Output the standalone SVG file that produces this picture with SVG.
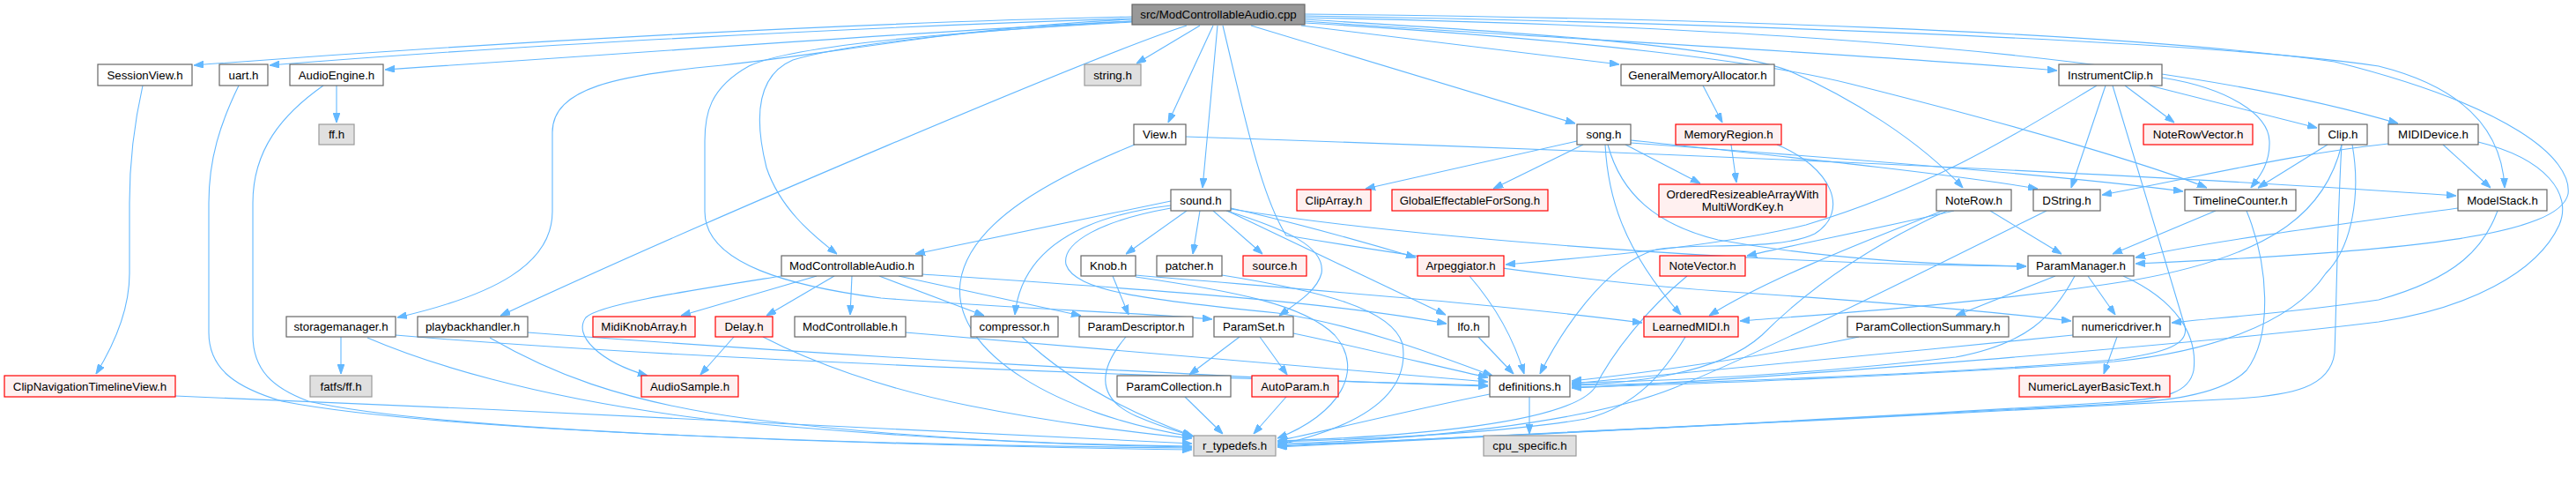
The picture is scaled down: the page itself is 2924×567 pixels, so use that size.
<svg xmlns="http://www.w3.org/2000/svg" width="2924" height="567" viewBox="0 0 2924 567">
<style>
.e{fill:none;stroke:#63b8ff;stroke-width:1.1;marker-end:url(#a)}
.n rect{fill:#fff;stroke:#666;stroke-width:1.2}
.r rect{fill:#fff0f0;stroke:#ff0000;stroke-width:1.2}
.g rect{fill:#e0e0e0;stroke:#999;stroke-width:1.2}
.root rect{fill:#999;stroke:#666;stroke-width:1.2}
text{font-family:"Liberation Sans",Arial,sans-serif;font-size:13.3px;fill:#000;text-anchor:middle}
</style>
<defs>
<marker id="a" markerUnits="userSpaceOnUse" markerWidth="11" markerHeight="8" refX="10" refY="3.5" orient="auto" viewBox="0 0 10 7">
<path d="M0,0 L10,3.5 L0,7 z" fill="#63b8ff" stroke="#63b8ff"/>
</marker>
</defs>
<rect width="2924" height="567" fill="#fff"/>
<g id="connectors">
<path class="e" d="M1285,19 C1000,25 600,45 220,74"/>
<path class="e" d="M1285,21 C1000,30 600,50 306,74"/>
<path class="e" d="M1285,24 C1100,32 800,55 437,79"/>
<path class="e" d="M1362,29 L1290,72"/>
<path class="e" d="M1377,29 L1326,139"/>
<path class="e" d="M1382,29 L1365,213"/>
<path class="e" d="M1285,22 C1100,30 950,60 820,74 C700,85 627,100 627,150 L627,240 C627,300 560,335 451,360"/>
<path class="e" d="M1347,29 C1250,60 800,250 568,358"/>
<path class="e" d="M1285,24 C1100,35 960,50 900,68 C860,85 855,130 870,190 C885,235 920,265 950,288"/>
<path class="e" d="M1285,25 C1100,35 900,50 850,75 C805,100 800,130 800,160 L800,240 C800,300 900,325 1000,338 C1150,350 1300,355 1376,362"/>
<path class="e" d="M1388,29 C1410,120 1430,220 1460,267 C1600,290 1800,320 1950,330 C2100,340 2250,352 2351,364"/>
<path class="e" d="M1420,29 L1788,140"/>
<path class="e" d="M1477,29 L1838,73"/>
<path class="e" d="M1481,24 C1700,40 2100,60 2335,80"/>
<path class="e" d="M1481,22 C1700,35 1950,50 2030,80 C2100,110 2180,160 2228,213"/>
<path class="e" d="M1481,26 C1800,45 2000,70 2100,95 C2300,145 2450,190 2505,213"/>
<path class="e" d="M1481,20 C2000,30 2450,60 2722,140"/>
<path class="e" d="M1481,18 C1900,25 2500,45 2700,75 C2800,100 2840,150 2843,213"/>
<path class="e" d="M1481,16 C1900,20 2400,35 2650,70 C2850,120 2920,180 2915,220 C2905,265 2750,285 2424,299"/>
<path class="e" d="M162,97 C150,150 147,200 147,230 L147,310 C147,350 130,390 109,424"/>
<path class="e" d="M199,449 C600,465 1100,490 1353,503"/>
<path class="e" d="M271,97 C250,140 237,180 237,230 L237,377 C237,420 270,440 320,455 C500,490 1000,505 1353,508"/>
<path class="e" d="M367,97 C320,130 287,170 287,230 L287,380 C287,420 310,440 350,455 C500,490 1000,505 1353,510"/>
<path class="e" d="M382,97 L382,139"/>
<path class="e" d="M387,382 L387,424"/>
<path class="e" d="M449,380 C800,410 1400,430 1689,437"/>
<path class="e" d="M417,383 C480,410 600,450 800,475 C1000,495 1200,505 1353,507"/>
<path class="e" d="M599,377 C900,400 1400,430 1689,438"/>
<path class="e" d="M556,383 C620,420 700,455 850,475 C1050,500 1250,505 1353,506"/>
<path class="e" d="M927,313 L773,358"/>
<path class="e" d="M947,313 L870,358"/>
<path class="e" d="M967,313 L965,357"/>
<path class="e" d="M998,313 L1117,358"/>
<path class="e" d="M1020,313 L1227,358"/>
<path class="e" d="M887,313 C780,330 680,345 665,360 C650,380 680,410 735,426"/>
<path class="e" d="M1047,311 C1250,325 1500,340 1642,367"/>
<path class="e" d="M833,382 L795,425"/>
<path class="e" d="M866,382 C920,410 1000,440 1100,460 C1200,480 1300,492 1353,497"/>
<path class="e" d="M1028,377 C1300,400 1550,420 1689,433"/>
<path class="e" d="M1160,382 C1200,420 1260,460 1353,494"/>
<path class="e" d="M1278,382 C1250,415 1240,450 1290,472 C1320,485 1340,490 1355,495"/>
<path class="e" d="M1263,313 L1281,357"/>
<path class="e" d="M1289,312 C1500,330 1700,345 1864,366"/>
<path class="e" d="M1289,314 C1400,330 1480,345 1515,380 C1550,420 1520,470 1450,497"/>
<path class="e" d="M1387,312 C1500,330 1580,350 1592,390 C1600,440 1560,480 1450,505"/>
<path class="e" d="M1329,228 L1039,288"/>
<path class="e" d="M1329,233 C1230,245 1160,280 1152,357"/>
<path class="e" d="M1347,239 L1278,288"/>
<path class="e" d="M1362,239 L1354,288"/>
<path class="e" d="M1377,239 L1433,288"/>
<path class="e" d="M1397,236 C1480,255 1550,275 1607,292"/>
<path class="e" d="M1393,239 L1641,357"/>
<path class="e" d="M1392,239 C1460,260 1505,280 1500,310 C1495,330 1470,345 1452,358"/>
<path class="e" d="M1397,237 C1600,270 2000,300 2300,302"/>
<path class="e" d="M1329,236 C1250,250 1205,275 1210,300 C1220,330 1300,340 1450,355 C1550,370 1650,410 1694,426"/>
<path class="e" d="M1790,160 L1550,214"/>
<path class="e" d="M1797,164 L1695,214"/>
<path class="e" d="M1845,164 L1930,208"/>
<path class="e" d="M1851,159 C2000,175 2200,195 2313,214"/>
<path class="e" d="M1851,162 C2100,180 2350,200 2478,217"/>
<path class="e" d="M1822,164 C1825,220 1840,280 1908,357"/>
<path class="e" d="M1825,164 C1840,220 1880,255 1950,272 C2080,295 2200,300 2300,302"/>
<path class="e" d="M1346,155 C1800,170 2400,195 2788,222"/>
<path class="e" d="M1288,164 C1200,200 1100,250 1090,320 C1080,400 1200,470 1353,495"/>
<path class="e" d="M1933,97 L1955,139"/>
<path class="e" d="M1965,164 L1971,207"/>
<path class="e" d="M2017,164 C2080,190 2100,240 2060,265 C2020,285 1920,275 1880,283 C1820,300 1770,380 1748,424"/>
<path class="e" d="M2412,97 L2468,139"/>
<path class="e" d="M2440,97 L2630,145"/>
<path class="e" d="M2454,88 C2530,100 2575,130 2576,160 C2577,185 2565,200 2555,213"/>
<path class="e" d="M2390,97 L2351,213"/>
<path class="e" d="M2380,97 C2300,145 2200,210 2050,255 C1950,280 1800,292 1709,300"/>
<path class="e" d="M2398,97 L2480,370 C2485,390 2460,400 2400,408 C2200,425 1900,435 1784,437"/>
<path class="e" d="M2642,164 L2563,213"/>
<path class="e" d="M2658,164 C2640,240 2580,290 2420,318 C2250,345 2050,358 1975,364"/>
<path class="e" d="M2658,164 C2653,250 2652,350 2650,400 C2645,440 2600,448 2540,452 C2200,470 1700,495 1450,507"/>
<path class="e" d="M2670,164 C2680,220 2670,280 2640,310 C2600,370 2500,400 2400,410 C2200,425 1900,437 1784,439"/>
<path class="e" d="M2711,163 C2600,175 2500,200 2386,221"/>
<path class="e" d="M2773,164 L2827,213"/>
<path class="e" d="M2813,161 C2890,180 2920,220 2905,255 C2880,310 2800,350 2700,365 C2500,390 2000,430 1784,440"/>
<path class="e" d="M2515,239 L2398,288"/>
<path class="e" d="M2550,239 C2575,300 2580,380 2550,420 C2520,450 2450,455 2400,458 C2100,475 1700,495 1450,506"/>
<path class="e" d="M2790,236 C2650,255 2500,275 2424,292"/>
<path class="e" d="M2835,239 C2820,280 2790,315 2700,340 C2600,355 2520,360 2465,366"/>
<path class="e" d="M2259,239 L2340,288"/>
<path class="e" d="M2218,239 C2150,255 2050,275 1983,290"/>
<path class="e" d="M2205,239 C2100,280 2000,320 1940,358"/>
<path class="e" d="M2210,239 C2120,280 2050,330 2000,380 C1950,425 1850,435 1784,436"/>
<path class="e" d="M2323,239 C2200,300 2000,400 1900,440 C1800,480 1600,500 1450,503"/>
<path class="e" d="M2333,313 L2220,358"/>
<path class="e" d="M2370,313 L2401,357"/>
<path class="e" d="M2355,313 C2330,360 2300,390 2220,405 C2050,425 1900,432 1784,434"/>
<path class="e" d="M2410,313 C2470,340 2495,380 2490,420 C2485,445 2460,452 2400,456 C2100,475 1700,495 1450,505"/>
<path class="e" d="M2110,382 C2000,405 1850,425 1784,432"/>
<path class="e" d="M2403,382 L2388,424"/>
<path class="e" d="M2353,380 C2150,400 1900,425 1784,435"/>
<path class="e" d="M1915,313 C1870,350 1830,400 1810,440 C1780,480 1600,495 1450,500"/>
<path class="e" d="M1913,382 C1890,420 1860,460 1800,475 C1700,492 1550,498 1450,501"/>
<path class="e" d="M1668,313 C1700,350 1720,390 1730,424"/>
<path class="e" d="M1678,382 L1718,424"/>
<path class="e" d="M1407,382 L1350,425"/>
<path class="e" d="M1430,382 L1461,425"/>
<path class="e" d="M1468,378 C1550,395 1650,420 1689,428"/>
<path class="e" d="M1345,450 L1388,492"/>
<path class="e" d="M1460,450 L1423,492"/>
<path class="e" d="M1736,450 L1736,492"/>
<path class="e" d="M1691,447 C1600,465 1500,490 1450,500"/>
</g>
<g id="n_root" class="root"><rect x="1285" y="5" width="196" height="23"/><text x="1383" y="21">src/ModControllableAudio.cpp</text></g>
<g id="n_sessionview" class="n"><rect x="111" y="73" width="107" height="24"/><text x="164.5" y="89.5">SessionView.h</text></g>
<g id="n_uart" class="n"><rect x="249" y="73" width="55" height="24"/><text x="276.5" y="89.5">uart.h</text></g>
<g id="n_audioengine" class="n"><rect x="329" y="73" width="106" height="24"/><text x="382" y="89.5">AudioEngine.h</text></g>
<g id="n_string" class="g"><rect x="1231" y="73" width="64" height="24"/><text x="1263" y="89.5">string.h</text></g>
<g id="n_gma" class="n"><rect x="1840" y="73" width="174" height="24"/><text x="1927" y="89.5">GeneralMemoryAllocator.h</text></g>
<g id="n_instrumentclip" class="n"><rect x="2337" y="73" width="117" height="24"/><text x="2395.5" y="89.5">InstrumentClip.h</text></g>
<g id="n_ff" class="g"><rect x="362" y="141" width="40" height="23"/><text x="382" y="157">ff.h</text></g>
<g id="n_view" class="n"><rect x="1287" y="141" width="59" height="23"/><text x="1316.5" y="157">View.h</text></g>
<g id="n_song" class="n"><rect x="1790" y="141" width="61" height="23"/><text x="1820.5" y="157">song.h</text></g>
<g id="n_memoryregion" class="r"><rect x="1902" y="141" width="120" height="23"/><text x="1962" y="157">MemoryRegion.h</text></g>
<g id="n_noterowvector" class="r"><rect x="2433" y="141" width="124" height="23"/><text x="2495" y="157">NoteRowVector.h</text></g>
<g id="n_clip" class="n"><rect x="2632" y="141" width="55" height="23"/><text x="2659.5" y="157">Clip.h</text></g>
<g id="n_mididevice" class="n"><rect x="2711" y="141" width="102" height="23"/><text x="2762" y="157">MIDIDevice.h</text></g>
<g id="n_sound" class="n"><rect x="1329" y="215" width="68" height="24"/><text x="1363" y="231.5">sound.h</text></g>
<g id="n_cliparray" class="r"><rect x="1472" y="215" width="84" height="24"/><text x="1514" y="231.5">ClipArray.h</text></g>
<g id="n_globaleffectable" class="r"><rect x="1580" y="215" width="177" height="24"/><text x="1668.5" y="231.5">GlobalEffectableForSong.h</text></g>
<g id="n_oraw" class="r"><rect x="1883" y="209" width="190" height="37"/><text x="1978" y="225">OrderedResizeableArrayWith</text><text x="1978" y="239">MultiWordKey.h</text></g>
<g id="n_noterow" class="n"><rect x="2198" y="215" width="85" height="24"/><text x="2240.5" y="231.5">NoteRow.h</text></g>
<g id="n_dstring" class="n"><rect x="2308" y="215" width="76" height="24"/><text x="2346" y="231.5">DString.h</text></g>
<g id="n_timelinecounter" class="n"><rect x="2480" y="215" width="126" height="24"/><text x="2543" y="231.5">TimelineCounter.h</text></g>
<g id="n_modelstack" class="n"><rect x="2790" y="215" width="101" height="24"/><text x="2840.5" y="231.5">ModelStack.h</text></g>
<g id="n_mca" class="n"><rect x="887" y="290" width="160" height="23"/><text x="967" y="306">ModControllableAudio.h</text></g>
<g id="n_knob" class="n"><rect x="1227" y="290" width="62" height="23"/><text x="1258" y="306">Knob.h</text></g>
<g id="n_patcher" class="n"><rect x="1313" y="290" width="74" height="23"/><text x="1350" y="306">patcher.h</text></g>
<g id="n_source" class="r"><rect x="1411" y="290" width="72" height="23"/><text x="1447" y="306">source.h</text></g>
<g id="n_arpeggiator" class="r"><rect x="1609" y="290" width="98" height="23"/><text x="1658" y="306">Arpeggiator.h</text></g>
<g id="n_notevector" class="r"><rect x="1884" y="290" width="97" height="23"/><text x="1932.5" y="306">NoteVector.h</text></g>
<g id="n_parammanager" class="n"><rect x="2302" y="290" width="120" height="23"/><text x="2362" y="306">ParamManager.h</text></g>
<g id="n_storagemanager" class="n"><rect x="325" y="359" width="124" height="23"/><text x="387" y="375">storagemanager.h</text></g>
<g id="n_playbackhandler" class="n"><rect x="474" y="359" width="125" height="23"/><text x="536.5" y="375">playbackhandler.h</text></g>
<g id="n_midiknobarray" class="r"><rect x="673" y="359" width="116" height="23"/><text x="731" y="375">MidiKnobArray.h</text></g>
<g id="n_delay" class="r"><rect x="812" y="359" width="65" height="23"/><text x="844.5" y="375">Delay.h</text></g>
<g id="n_modcontrollable" class="n"><rect x="902" y="359" width="126" height="23"/><text x="965" y="375">ModControllable.h</text></g>
<g id="n_compressor" class="n"><rect x="1102" y="359" width="99" height="23"/><text x="1151.5" y="375">compressor.h</text></g>
<g id="n_paramdescriptor" class="n"><rect x="1225" y="359" width="129" height="23"/><text x="1289.5" y="375">ParamDescriptor.h</text></g>
<g id="n_paramset" class="n"><rect x="1378" y="359" width="90" height="23"/><text x="1423" y="375">ParamSet.h</text></g>
<g id="n_lfo" class="n"><rect x="1644" y="359" width="46" height="23"/><text x="1667" y="375">lfo.h</text></g>
<g id="n_learnedmidi" class="r"><rect x="1866" y="359" width="107" height="23"/><text x="1919.5" y="375">LearnedMIDI.h</text></g>
<g id="n_pcs" class="n"><rect x="2097" y="359" width="183" height="23"/><text x="2188.5" y="375">ParamCollectionSummary.h</text></g>
<g id="n_numericdriver" class="n"><rect x="2353" y="359" width="110" height="23"/><text x="2408" y="375">numericdriver.h</text></g>
<g id="n_clipnav" class="r"><rect x="5" y="426" width="194" height="24"/><text x="102" y="442.5">ClipNavigationTimelineView.h</text></g>
<g id="n_fatfs" class="g"><rect x="352" y="426" width="70" height="24"/><text x="387" y="442.5">fatfs/ff.h</text></g>
<g id="n_audiosample" class="r"><rect x="728" y="426" width="110" height="24"/><text x="783" y="442.5">AudioSample.h</text></g>
<g id="n_paramcollection" class="n"><rect x="1268" y="426" width="129" height="24"/><text x="1332.5" y="442.5">ParamCollection.h</text></g>
<g id="n_autoparam" class="r"><rect x="1421" y="426" width="98" height="24"/><text x="1470" y="442.5">AutoParam.h</text></g>
<g id="n_definitions" class="n"><rect x="1691" y="426" width="91" height="24"/><text x="1736.5" y="442.5">definitions.h</text></g>
<g id="n_numericlayer" class="r"><rect x="2292" y="426" width="171" height="24"/><text x="2377.5" y="442.5">NumericLayerBasicText.h</text></g>
<g id="n_rtypedefs" class="g"><rect x="1355" y="494" width="93" height="23"/><text x="1401.5" y="510">r_typedefs.h</text></g>
<g id="n_cpuspecific" class="g"><rect x="1684" y="494" width="105" height="23"/><text x="1736.5" y="510">cpu_specific.h</text></g>
</svg>
